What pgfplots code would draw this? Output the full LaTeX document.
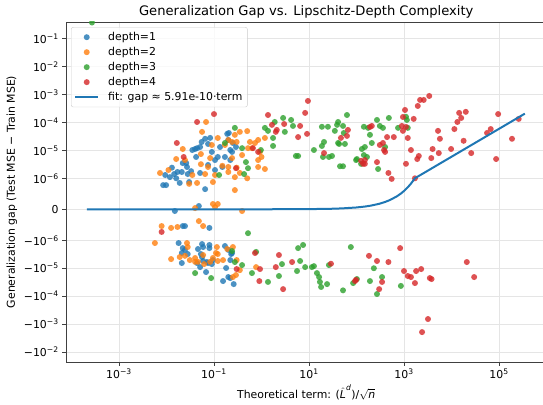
\documentclass[border=0pt]{standalone}
\usepackage{fontspec}
\setmainfont{DejaVu Sans}
\usepackage{amsmath}
\usepackage{pgfplots}
\pgfplotsset{compat=1.18}
\usepackage{pgfplotstable}
\usetikzlibrary{calc}

\definecolor{tabblue}{HTML}{1F77B4}
\definecolor{taborange}{HTML}{FF7F0E}
\definecolor{tabgreen}{HTML}{2CA02C}
\definecolor{tabred}{HTML}{D62728}

\pgfplotsset{
  dotlegend/.style={legend image code/.code={\draw[mark repeat=2,mark phase=2,##1] plot coordinates {(0pt,0pt)(11.5pt,0pt)(23pt,0pt)}; \path (0pt,0pt) (30pt,0pt);}},
  linelegend/.style={legend image code/.code={\draw[##1] (0pt,0pt) -- (23pt,0pt); \path (0pt,0pt) (30pt,0pt);}},
  dots/.style={only marks, mark=*, mark size=3pt, color=#1, mark options={fill=#1, draw opacity=0, fill opacity=0.8}, dotlegend},
}

% term  gap
\pgfplotstableread{
x y
0.0085 0.78e-6
0.0098 0.78e-6
0.013 2.4e-6
0.0145 1.42e-6
0.019 0.85e-6
0.016 1.0e-6
0.027 2.54e-6
0.028 1.42e-6
0.030 0.88e-6
0.035 1.03e-5
0.042 5.8e-6
0.051 1.32e-5
0.040 1.12e-5
0.065 2.6e-5
0.083 2.8e-5
0.075 1.7e-5
0.065 0.65e-6
0.12 5.8e-6
0.134 1.32e-5
0.19 3.9e-5
0.205 4.2e-5
0.22 4.5e-6
0.15 2.54e-6
0.105 1.98e-6
0.25 1.84e-5
0.051 1.55e-6
0.026 3.5e-6
0.033 1.8e-6
0.0094 1.31e-6
0.021 1.68e-6
0.105 4.5e-6
0.17 5.8e-6
0.24 8.8e-6
0.044 1.2e-5
0.09 8.8e-6
0.29 1.32e-5
0.022 3.5e-6
0.075 3.0e-6
0.0118 1.1e-6
0.017 1.68e-6
0.2 2.36e-5
0.22 1.03e-5
0.055 2.0e-5
0.048 0.106e-6
0.015 -0.055e-6
0.022 -0.54e-6
0.0245 -0.54e-6
0.08 -0.6e-6
0.018 -1.25e-6
0.022 -1.9e-6
0.0245 -2.2e-6
0.021 -2.85e-6
0.021 -6.5e-6
0.028 -3.1e-6
0.046 -2.05e-6
0.056 -1.36e-6
0.059 -1.74e-6
0.053 -3.1e-6
0.056 -3.97e-6
0.044 -6.5e-6
0.059 -5.5e-6
0.071 -6e-6
0.068 -1.37e-5
0.075 -6.5e-6
0.08 -1.47e-6
0.08 -1.9e-6
0.09 -7.1e-6
0.095 -5.1e-6
0.17 -1.6e-6
0.2 -2.2e-6
0.24 -2.85e-6
0.22 -5.1e-6
0.18 -9.8e-6
0.2 -2.07e-5
0.155 -2.88e-5
0.26 -3.7e-5
0.051 -9.1e-6
0.23 -3.1e-6
0.22 -2.25e-5
}\depthone

\pgfplotstableread{
x y
0.0073 1.55e-6
0.016 4.9e-6
0.022 1.12e-5
0.030 0.82e-6
0.044 0.85e-6
0.095 0.88e-6
0.053 7.4e-6
0.053 3.2e-6
0.075 2.54e-6
0.065 1.42e-6
0.105 1.31e-6
0.15 2.8e-6
0.2 1.68e-6
0.17 1.56e-5
0.09 1.56e-5
0.12 2.78e-5
0.24 2.0e-5
0.083 5.3e-6
0.035 1.31e-6
0.068 1.04e-4
0.056 4.6e-5
0.011 1.98e-6
0.0245 4.5e-6
0.275 3.6e-5
0.35 4.6e-5
0.5 4.9e-5
0.3 2.0e-5
0.2 2.36e-5
0.57 2.0e-5
0.63 1.2e-5
0.73 1.84e-5
0.85 2.36e-5
1.18 2.78e-5
0.52 1.2e-5
0.39 6.8e-6
0.24 5.3e-6
0.2 2.54e-6
0.3 2.4e-6
0.35 1.55e-6
0.5 1.0e-6
0.275 1.1e-6
0.85 4.5e-6
0.85 2.54e-6
1.18 2.15e-6
0.275 0.62e-6
0.93 8.8e-6
1.0 5.8e-6
0.095 0.17e-6
0.12 0.17e-6
0.105 0.07e-6
0.04 0.04e-6
0.39 -0.055e-6
0.0079 -0.54e-6
0.0125 -0.6e-6
0.017 -0.57e-6
0.048 -0.38e-6
0.059 -0.54e-6
0.0057 -1.25e-6
0.0125 -4.7e-6
0.019 -3.97e-6
0.027 -1.25e-6
0.028 -1.74e-6
0.0245 -3.6e-6
0.04 -4.3e-6
0.04 -5.9e-6
0.046 -5.9e-6
0.059 -3.36e-6
0.062 -7.1e-6
0.083 -5.9e-6
0.115 -1.74e-6
0.11 -2.85e-6
0.12 -3.1e-6
0.12 -5.5e-6
0.155 -5.1e-6
0.19 -2.05e-6
0.25 -1.74e-6
0.3 -5.1e-6
0.25 -2.07e-5
0.35 -1.17e-5
0.77 -9.1e-6
0.29 -1.75e-5
0.031 -5.1e-6
0.095 -4.3e-6
}\depthtwo

\pgfplotstableread{
x y
0.00027 0.38
0.17 1.84e-5
0.128 1.31e-6
0.275 6.4e-5
0.39 1.2e-5
0.47 3.8e-6
0.52 2.3e-6
0.43 1.42e-6
1.18 6.4e-5
1.37 5e-5
1.75 2.78e-5
1.75 1.44e-5
1.9 1.04e-4
2.85 1.45e-4
4.2 1.23e-4
4.6 7.5e-5
3.1 4.6e-5
5.3 6.3e-6
5.9 6.3e-6
12.7 1.03e-5
18.7 1.44e-5
20.7 2.0e-5
18.7 7e-5
25 7e-5
19.7 5.8e-6
26.3 5.8e-6
30.5 6.3e-6
35 5e-5
39 8.2e-5
41 1.04e-4
63 1.85e-4
52 7.5e-5
54 4.2e-5
41 1.84e-5
43 1.7e-5
57 1.7e-5
45 2.7e-6
52 2.7e-6
98 4.5e-6
102 4.9e-6
130 1.12e-5
150 1.32e-5
143 6.8e-6
166 5.8e-6
125 3.3e-6
143 7e-5
175 6.4e-5
192 3.6e-5
210 1.84e-5
270 1.23e-4
310 7.5e-5
360 6.4e-5
400 1.32e-5
285 2.15e-6
480 1.45e-4
750 6.4e-5
1100 1.6e-4
1150 1.23e-4
1200 6.4e-5
0.97 1.03e-5
0.52 -0.77e-6
0.24 -2.42e-6
0.275 -6e-6
0.39 -7.7e-6
0.77 -2.6e-6
0.63 -1.49e-5
0.04 -1.49e-5
0.087 -2.25e-5
1.37 -3.1e-5
2.33 -1.9e-5
2.7 -7.1e-6
5.9 -1.9e-6
7.5 -1.47e-6
6.5 -5.5e-6
5.6 -1.26e-5
8.3 -9.1e-6
11.5 -9.1e-6
12.7 -8.4e-6
14.7 -1.49e-5
16.3 -2.07e-5
17 -3.1e-5
24 -3.7e-5
18 -4.7e-5
26.3 -7.7e-6
76 -1.74e-6
52 -6.2e-5
85 -3.4e-5
102 -2.44e-5
192 -2.88e-5
232 -1e-5
345 -2.07e-5
270 -8.4e-5
860 -4.3e-5
}\depththree

\pgfplotstableread{
x y
0.1 2.0e-4
0.044 1.04e-4
0.0165 1.84e-5
0.023 5.8e-6
9.5 5.9e-4
8.3 2.2e-4
1.37 1.85e-4
1.66 8.2e-5
2.1 5.4e-5
3.0 8.8e-5
6.5 7.5e-5
5.9 3e-5
0.66 1.2e-5
0.85 8.8e-6
0.29 2.3e-6
20.7 8e-6
2.0 4.6e-5
9.1 3.9e-5
66 5.4e-5
63 3.3e-5
47 2.8e-5
192 6.9e-5
210 7.5e-5
310 1.56e-5
360 1.84e-5
380 1.03e-5
400 8.8e-6
440 3.0e-5
610 3.0e-5
270 3.8e-6
470 1.55e-6
550 0.98e-6
125 4.2e-6
150 4.5e-6
137 3.3e-6
150 3.3e-6
900 7.5e-5
950 5e-5
1100 6.9e-5
1050 2.8e-4
950 1.57e-4
1600 1.34e-4
1200 2.78e-5
1400 1.03e-5
1100 3.3e-6
1900 4.9e-6
2050 6.3e-6
3750 5.3e-6
4000 1.12e-5
5400 8e-6
5700 2.6e-5
5200 5e-5
9800 1.12e-5
11500 5.8e-5
13300 1.04e-4
14500 2.2e-4
16000 1.45e-4
20000 2.4e-4
18000 2.2e-5
26000 8e-6
1950 3.9e-4
2180 6.4e-4
2600 6.4e-4
3400 8.9e-4
56000 4.2e-5
67000 5.8e-5
96000 2e-4
87000 4.9e-6
188000 2.6e-5
260000 1.34e-4
1700 1.0e-6
0.0079 -0.73e-6
0.3 -1.07e-5
0.93 -1.07e-5
0.9 -2.88e-5
0.73 -2.85e-6
2.33 -3.36e-6
2.0 -9.1e-6
2.85 -5.6e-5
4.4 -6e-6
29 -6.9e-6
183 -3.6e-6
270 -5.5e-6
470 -6e-6
830 -1.9e-6
98 -2.6e-5
93 -2.88e-5
345 -3.1e-5
300 -5.6e-5
1000 -1.26e-5
1200 -1.9e-5
1400 -2.07e-5
1800 -1.26e-5
2300 -1.07e-5
1700 -3.4e-5
3500 -2.25e-5
3800 -2.44e-5
3200 -6.6e-4
2400 -1.94e-3
21000 -6e-6
30000 -2.07e-5
}\depthfour

% fit line: gap = 5.91e-10 * term
\pgfplotstableread{
x y
2.1e-4 1.24e-13
1e-3 5.91e-13
1e-2 5.91e-12
0.1 5.91e-11
1 5.91e-10
10 5.91e-9
30 1.773e-8
50 2.955e-8
100 5.91e-8
150 8.87e-8
200 1.182e-7
300 1.773e-7
400 2.364e-7
500 2.955e-7
700 4.137e-7
850 5.02e-7
1000 5.91e-7
1200 7.09e-7
1400 8.27e-7
1600 9.46e-7
1692 1.0e-6
1800 1.064e-6
2000 1.182e-6
2500 1.478e-6
3000 1.773e-6
1e4 5.91e-6
1e5 5.91e-5
3.5e5 2.07e-4
}\fitline

\begin{document}
\begin{tikzpicture}
\begin{axis}[
    scale only axis,
    width=480.5pt, height=340pt,
    xmode=log,
    xmin=7.66e-5, xmax=1e6,
    ymin=-5.47, ymax=6.71,
    % symlog transform, linthresh 1e-6
    y filter/.expression={y>1e-6 ? 1.11111+log10(max(y,1e-6)*1e6) : (y<-1e-6 ? -1.11111-log10(max(-y,1e-6)*1e6) : y*1.11111e6)},
    xtick={1e-3,1e-1,1e1,1e3,1e5},
    xticklabels={10\textsuperscript{−3},10\textsuperscript{−1},10\textsuperscript{1},10\textsuperscript{3},10\textsuperscript{5}},
    minor xtick={},
    ytick={-5.11111,-4.11111,-3.11111,-2.11111,-1.11111,0,1.11111,2.11111,3.11111,4.11111,5.11111,6.11111},
    yticklabels={−10\textsuperscript{−2},−10\textsuperscript{−3},−10\textsuperscript{−4},−10\textsuperscript{−5},−10\textsuperscript{−6},0,10\textsuperscript{−6},10\textsuperscript{−5},10\textsuperscript{−4},10\textsuperscript{−3},10\textsuperscript{−2},10\textsuperscript{−1}},
    tick pos=left,
    tick align=outside,
    major tick length=3.8pt,
    tick style={black!75, line width=0.8pt},
    axis line style={black!75, line width=0.8pt},
    ticklabel style={font=\fontsize{10.9}{13}\selectfont},
    grid=major,
    grid style={gray!20, line width=0.8pt},
    title={Generalization Gap vs. Lipschitz-Depth Complexity},
    title style={font=\fontsize{13.1}{15}\selectfont, yshift=-6pt},
    xlabel={Theoretical term: ($\hat{\textit{L}}^{\textit{d}}$)/$\sqrt{\textit{n}}$},
    ylabel={Generalization gap (Test MSE − Train MSE)},
    label style={font=\fontsize{10.9}{13}\selectfont},
    xlabel style={yshift=1pt},
    clip marker paths=true,
    legend cell align=left,
    legend style={at={(0.0105,0.985)}, anchor=north west,
        font=\fontsize{10.9}{13}\selectfont,
        draw=gray!40, rounded corners=2pt, fill=white, fill opacity=0.8, text opacity=1,
        row sep=1.2pt, inner xsep=3pt, inner ysep=3pt},
]
\addplot[dots=tabblue] table {\depthone};
\addlegendentry{depth=1}
\addplot[dots=taborange] table {\depthtwo};
\addlegendentry{depth=2}
\addplot[dots=tabgreen] table {\depththree};
\addlegendentry{depth=3}
\addplot[dots=tabred] table {\depthfour};
\addlegendentry{depth=4}
\addplot[tabblue, line width=2pt, no marks, linelegend] table {\fitline};
\addlegendentry{fit: gap ≈ 5.91e-10·term}
\end{axis}
\pgfresetboundingbox
\path ($(current axis.south west)+(-66pt,-42pt)$) rectangle ($(current axis.north east)+(-3.5pt,22pt)$);
\end{tikzpicture}
\end{document}
